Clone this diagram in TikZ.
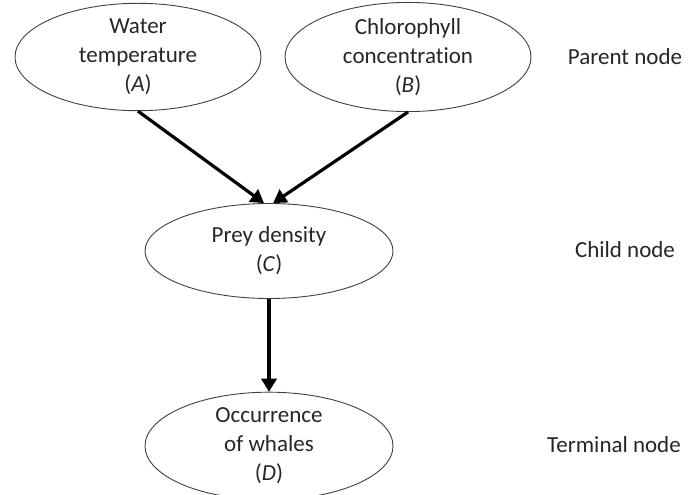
\documentclass[tikz,border=0pt]{standalone}
\usepackage{fontspec}
\setmainfont[Ligatures=NoCommon]{Carlito}
\usetikzlibrary{shapes.geometric,arrows.meta}

\tikzset{
  varnode/.style={ellipse, draw=black!75, line width=0.9pt, inner sep=0pt,
    minimum width=246pt, minimum height=96pt, align=center,
    font=\fontsize{23}{29}\selectfont, text=black!85},
  levellabel/.style={font=\fontsize{23}{29}\selectfont, text=black!85},
  link/.style={line width=3.2pt, -{Triangle[length=13pt,width=15pt]}}
}

\begin{document}
\begin{tikzpicture}[x=1pt,y=1pt]
\useasboundingbox (0,0) rectangle (689,-495);

\node[varnode] (A) at (138,-57) {Water\\temperature\\(\textit{A})};
\node[varnode] (B) at (408,-57) {Chlorophyll\\concentration\\(\textit{B})};
\node[varnode, minimum width=248pt, minimum height=95pt] (C) at (269,-251) {Prey density\\(\textit{C})};
\node[varnode, minimum width=248pt, minimum height=92pt] (D) at (269,-446) {Occurrence\\of whales\\(\textit{D})};

\node[levellabel] (parent) at (625,-57) {Parent node};
\node[levellabel] (child) at (625,-250) {Child node};
\node[levellabel] (terminal) at (614,-445) {Terminal node};

\draw[link] (A.south) -- (C.96);
\draw[link] (B.south) -- (C.85);
\draw[link] (C.south) -- (D.north);
\end{tikzpicture}
\end{document}
